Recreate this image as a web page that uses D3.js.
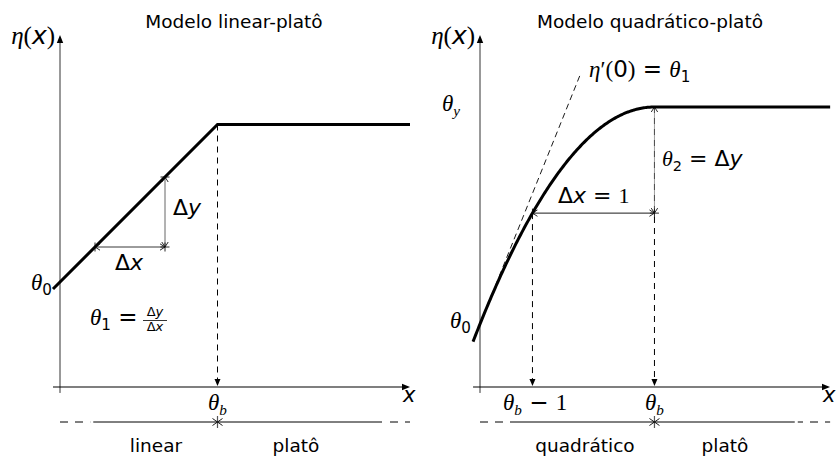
<!DOCTYPE html>
<html>
<head>
<meta charset="utf-8">
<script src="https://cdn.jsdelivr.net/npm/d3@7"></script>
<style>
  body { margin: 0; background: #fff; }
  svg { display: block; }
</style>
</head>
<body>
<svg id="fig" width="836" height="457"></svg>
<script>
// ---- figure content ----
const panelTitles = ["Modelo linear-platô", "Modelo quadrático-platô"];
const regimeLabels = [["linear", "platô"], ["quadrático", "platô"]];

// linear-plateau model: [theta0 (intercept), theta1 (slope), thetaB (break point)]
const linearParams = [3.0, 1.0, 4.5];
// slope illustration: Δx drawn between these two x values
const slopeSpan = [1, 3];

// quadratic-plateau model: [theta0 (intercept), thetaB (break point), thetaY (plateau)]
const quadParams = [1.8, 1.43, 8.0];

// axis extents (data units) for each panel: [xmin, xmax]
const linearXExtent = [-0.2, 10];
const quadXExtent = [-0.057, 2.87];
// regime bar: y level and solid part [from, to] for each panel
const regimeY = -1;
const linearRegimeSolid = [0.95, 9.2];
const quadRegimeSolid = [0.246, 2.58];
// end of the tangent line at the origin (x, data units)
const tangentEnd = 0.82;

// ---- scales ----
const y = d3.scaleLinear().domain([0, 10]).range([387, 37]);
const xL = d3.scaleLinear().domain([0, 10]).range([60, 410]);
const xR = d3.scaleLinear().domain([0, 1]).range([480, 602]);

const svg = d3.select("#fig");
const SANS = "'DejaVu Sans', sans-serif";
const SERIF = "'Liberation Serif', 'DejaVu Serif', serif";

// ---- helpers ----
function arrowHead(g, x, yy, ux, uy, len = 8, hw = 3.2) {
  const px = -uy, py = ux;
  const bx = x - ux * len, by = yy - uy * len;
  g.append("path")
    .attr("d", `M${x},${yy}L${bx + px * hw},${by + py * hw}L${bx - px * hw},${by - py * hw}Z`)
    .attr("fill", "#000");
}

// "|<" style end of a dimension line; (ux,uy) points toward the end
function dimEnd(g, x, yy, ux, uy, bar = 4.5, barb = 5, spread = 3.2, color = "#111") {
  const px = -uy, py = ux;
  g.append("path")
    .attr("d",
      `M${x + px * bar},${yy + py * bar}L${x - px * bar},${yy - py * bar}` +
      `M${x - ux * barb + px * spread},${yy - uy * barb + py * spread}L${x},${yy}` +
      `L${x - ux * barb - px * spread},${yy - uy * barb - py * spread}`)
    .attr("fill", "none").attr("stroke", color).attr("stroke-width", 0.9);
}

function line(g, x1, y1, x2, y2, w = 1, color = "#000", dash = null) {
  const l = g.append("line")
    .attr("x1", x1).attr("y1", y1).attr("x2", x2).attr("y2", y2)
    .attr("stroke", color).attr("stroke-width", w);
  if (dash) l.attr("stroke-dasharray", dash);
  return l;
}

// text built from pieces [string, kind]
function mathText(g, x, yy, anchor, pieces, size = 20) {
  const t = g.append("text").attr("x", x).attr("y", yy)
    .attr("text-anchor", anchor).attr("font-size", size).attr("fill", "#000");
  let shift = 0;
  pieces.forEach(([s, kind]) => {
    const sp = t.append("tspan").text(s);
    let target = 0;
    if (kind === "m" || kind === "subm") {
      sp.attr("font-family", SERIF).attr("font-style", "italic");
    } else if (kind === "r") {
      sp.attr("font-family", SERIF);
    } else if (kind === "si") {
      sp.attr("font-family", SANS).attr("font-style", "oblique");
    } else {
      sp.attr("font-family", SANS);
    }
    if (kind === "sub" || kind === "subm") {
      sp.attr("font-size", size * 0.66);
      target = size * 0.22;
    }
    if (target !== shift) { sp.attr("dy", target - shift); shift = target; }
  });
  return t;
}

function plainText(g, x, yy, s, size = 18.5) {
  g.append("text").attr("x", x).attr("y", yy).attr("text-anchor", "middle")
    .attr("font-family", SANS).attr("font-size", size).attr("fill", "#000").text(s);
}

function axes(g, xs, xExt, xEndPx) {
  // y axis
  line(g, xs(0), y(-0.17), xs(0), y(10) + 4, 1, "#333");
  arrowHead(g, xs(0), y(10) - 2, 0, -1);
  // x axis
  line(g, xs(xExt[0]), y(0), xEndPx - 4, y(0), 1.1, "#000");
  arrowHead(g, xEndPx, y(0), 1, 0);
}

function regimeBar(g, xs, x0, x1, solid, bx) {
  const yy = y(regimeY);
  line(g, xs(x0), yy, xs(x1), yy, 1, "#000", "8,7");
  g.append("rect").attr("x", xs(solid[0]) - 3).attr("y", yy - 2).attr("width", xs(solid[1]) - xs(solid[0]) + 6).attr("height", 4).attr("fill", "#fff");
  line(g, xs(solid[0]), yy, xs(solid[1]), yy, 1, "#000");
  const px = xs(bx);
  line(g, px, yy - 6, px, yy + 6, 1.2, "#555");
  dimEnd(g, px, yy, 1, 0, 0, 5, 3.5, "#000");
  dimEnd(g, px, yy, -1, 0, 0, 5, 3.5, "#000");
}

// ================= linear-plateau panel =================
{
  const g = svg.append("g");
  const [t0, t1, tb] = linearParams;
  const f = v => v < tb ? t0 + t1 * v : t0 + t1 * tb;

  plainText(g, 234, 28, panelTitles[0]);
  axes(g, xL, linearXExtent, 410);

  // dashed projection of the break point
  line(g, xL(tb), y(f(tb)), xL(tb), y(0) - 7, 1, "#000", "6,5");
  arrowHead(g, xL(tb), y(0) - 1, 0, 1, 7, 3);

  // Δy / Δx construction
  const [a, b] = slopeSpan;
  line(g, xL(a), y(f(a)), xL(b), y(f(a)), 0.9, "#222");
  line(g, xL(b), y(f(a)), xL(b), y(f(b)), 0.9, "#555");
  dimEnd(g, xL(a), y(f(a)), -1, 0);
  dimEnd(g, xL(b), y(f(a)), 1, 0);
  dimEnd(g, xL(b), y(f(a)), 0, 1);
  dimEnd(g, xL(b), y(f(b)), 0, -1);

  // model line
  const pts = [linearXExtent[0], tb, linearXExtent[1]].map(v => [xL(v), y(f(v))]);
  g.append("path").attr("d", d3.line()(pts))
    .attr("fill", "none").attr("stroke", "#000").attr("stroke-width", 3)
    .attr("stroke-linejoin", "miter");

  // labels
  mathText(g, 55, 44, "end", [["η", "m"], ["(", "r"], ["x", "si"], [")", "r"]], 25);
  mathText(g, 52, 290, "end", [["θ", "m"], ["0", "sub"]], 23);
  mathText(g, 173, 215, "start", [["Δ", "s"], ["y", "si"]], 22);
  mathText(g, 115, 270, "start", [["Δ", "s"], ["x", "si"]], 22);
  mathText(g, 90, 325, "start", [["θ", "m"], ["1", "sub"], [" = ", "s"]], 23);
  mathText(g, 155, 316, "middle", [["Δ", "s"], ["y", "si"]], 13);
  line(g, 143, 320.5, 167, 320.5, 0.8, "#000");
  mathText(g, 155, 331, "middle", [["Δ", "s"], ["x", "si"]], 13);
  mathText(g, xL(tb), 410, "middle", [["θ", "m"], ["b", "subm"]], 23);
  mathText(g, 403, 402, "start", [["x", "si"]], 21);

  regimeBar(g, xL, 0, 10, linearRegimeSolid, tb);
  plainText(g, 156, 452, regimeLabels[0][0]);
  plainText(g, 296, 452, regimeLabels[0][1]);
}

// ================= quadratic-plateau panel =================
{
  const g = svg.append("g");
  const [t0, tb, ty] = quadParams;
  const t2 = (ty - t0) / (tb * tb);   // curvature
  const t1 = 2 * t2 * tb;             // slope at the origin
  const f = v => v < tb ? ty - t2 * (v - tb) * (v - tb) : ty;

  plainText(g, 650, 28, panelTitles[1]);
  axes(g, xR, quadXExtent, 830);

  // tangent at the origin
  line(g, xR(quadXExtent[0]), y(t0 + t1 * quadXExtent[0]), xR(tangentEnd), y(t0 + t1 * tangentEnd), 0.9, "#000", "6,4");

  // projections of thetaB - 1 and thetaB
  line(g, xR(tb - 1), y(f(tb - 1)), xR(tb - 1), y(0) - 7, 1, "#000", "6,5");
  arrowHead(g, xR(tb - 1), y(0) - 1, 0, 1, 7, 3);
  line(g, xR(tb), y(ty), xR(tb), y(0) - 7, 1, "#000", "6,5");
  arrowHead(g, xR(tb), y(0) - 1, 0, 1, 7, 3);

  // Δx = 1 and θ2 = Δy construction
  line(g, xR(tb - 1), y(f(tb - 1)), xR(tb), y(f(tb - 1)), 0.9, "#000");
  line(g, xR(tb), y(f(tb - 1)), xR(tb), y(ty), 0.7, "#777");
  dimEnd(g, xR(tb - 1), y(f(tb - 1)), -1, 0);
  dimEnd(g, xR(tb), y(f(tb - 1)), 1, 0);
  dimEnd(g, xR(tb), y(f(tb - 1)), 0, 1);
  dimEnd(g, xR(tb), y(ty), 0, -1);

  // model curve
  const xs = d3.range(quadXExtent[0], tb, 0.01).concat([tb, quadXExtent[1]]);
  g.append("path").attr("d", d3.line().x(v => xR(v)).y(v => y(f(v)))(xs))
    .attr("fill", "none").attr("stroke", "#000").attr("stroke-width", 3);

  // labels
  mathText(g, 475, 44, "end", [["η", "m"], ["(", "r"], ["x", "si"], [")", "r"]], 25);
  mathText(g, 589, 77, "start", [["η", "m"], ["′", "r"], ["(", "r"], ["0", "s"], [")", "r"], [" = ", "s"], ["θ", "m"], ["1", "sub"]], 23);
  mathText(g, 442, 111, "start", [["θ", "m"], ["y", "subm"]], 23);
  mathText(g, 662, 166, "start", [["θ", "m"], ["2", "sub"], [" = ", "s"], ["Δ", "s"], ["y", "si"]], 22);
  mathText(g, 558, 203, "start", [["Δ", "s"], ["x", "si"], [" = ", "s"], ["1", "r"]], 22);
  mathText(g, 471, 328, "end", [["θ", "m"], ["0", "sub"]], 23);
  mathText(g, 503, 410, "start", [["θ", "m"], ["b", "subm"], [" − ", "s"], ["1", "r"]], 23);
  mathText(g, xR(tb), 410, "middle", [["θ", "m"], ["b", "subm"]], 23);
  mathText(g, 823, 402, "start", [["x", "si"]], 21);

  regimeBar(g, xR, 0, quadXExtent[1], quadRegimeSolid, tb);
  plainText(g, 585, 452, regimeLabels[1][0]);
  plainText(g, 725, 452, regimeLabels[1][1]);
}
</script>
</body>
</html>
